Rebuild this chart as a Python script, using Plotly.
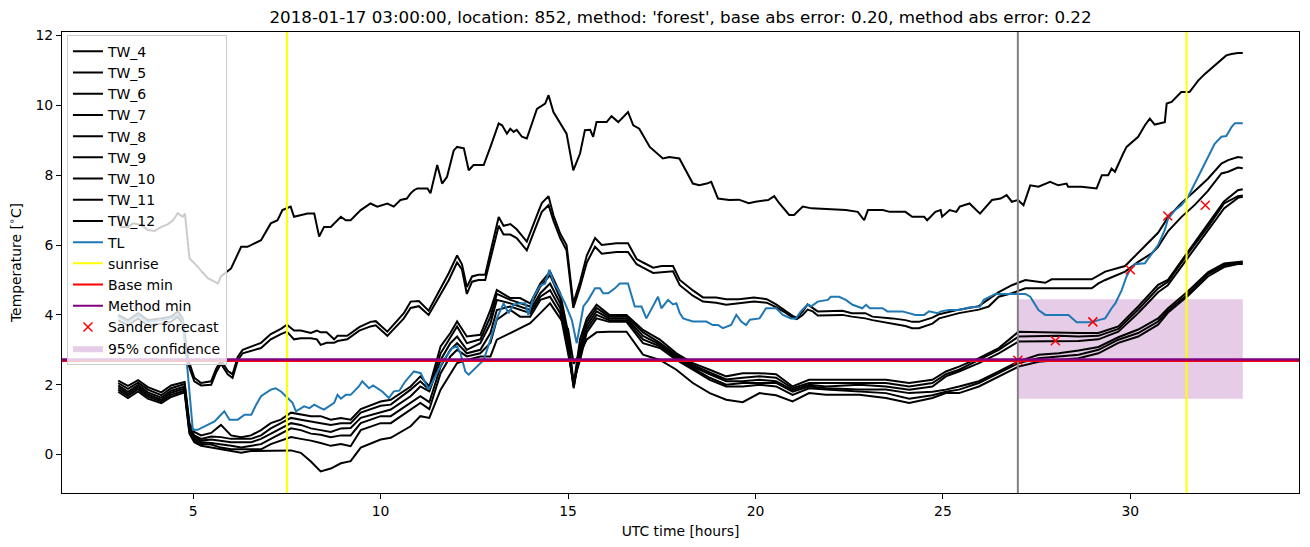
import plotly.graph_objects as go

# ---------------- data ----------------
title_text = "2018-01-17 03:00:00, location: 852, method: 'forest', base abs error: 0.20, method abs error: 0.22"

# warmest black line
top_t = [3.0, 3.08, 3.26, 3.4, 3.62, 3.79, 3.97, 4.15, 4.33, 4.46, 4.59, 4.72, 4.78, 4.9, 5.03, 5.39, 5.66, 5.74, 6.01,
         6.28, 6.45, 6.81, 7.07, 7.25, 7.38, 7.6, 7.69, 8.05, 8.23, 8.36, 8.49, 8.67, 8.94, 9.07, 9.2, 9.47, 9.73, 9.91,
         10.18, 10.35, 10.53, 10.7, 10.8, 10.89, 10.98, 11.25, 11.33, 11.51, 11.64, 11.77, 11.95, 12.04, 12.22, 12.35,
         12.48, 12.75, 12.93, 13.15, 13.24, 13.37, 13.46, 13.55, 13.63, 13.77, 13.9, 14.17, 14.39, 14.48, 14.61, 14.96,
         15.14, 15.32, 15.45, 15.59, 15.67, 15.76, 16.03, 16.16, 16.34, 16.6, 16.74, 16.9, 17.18, 17.53, 17.7, 17.97,
         18.33, 18.5, 18.7, 18.82, 19.0, 19.3, 19.56, 19.82, 20.0, 20.34, 20.5, 20.64, 20.9, 21.03, 21.26, 21.5, 22.41,
         22.73, 22.9, 23.0, 23.4, 23.58, 24.0, 24.18, 24.5, 24.58, 24.8, 24.94, 24.98, 25.18, 25.36, 25.45, 25.71, 25.99,
         26.31, 26.54, 26.7, 26.84, 27.0, 27.15, 27.33, 27.55, 27.86, 28.08, 28.3, 28.34, 28.7, 29.1, 29.24, 29.41, 29.5,
         29.59, 29.81, 29.9, 30.21, 30.39, 30.52, 30.65, 30.92, 30.97, 31.1, 31.36, 31.58, 31.81, 31.99, 32.34, 32.56,
         32.7, 32.87, 33.0]
top_v = [6.86, 6.52, 6.52, 6.62, 6.57, 6.43, 6.4, 6.52, 6.6, 6.71, 6.91, 6.81, 6.9, 5.62, 5.48, 5.05, 4.9, 5.1, 5.33,
         5.95, 5.95, 6.14, 6.62, 6.71, 7.0, 7.1, 6.81, 6.9, 6.9, 6.24, 6.52, 6.52, 6.81, 6.71, 6.71, 7.0, 7.19, 7.1,
         7.19, 7.1, 7.29, 7.33, 7.48, 7.57, 7.62, 7.62, 7.48, 8.29, 7.76, 7.95, 8.71, 8.81, 8.77, 8.14, 8.29, 8.29, 8.81,
         9.48, 9.43, 9.19, 9.33, 9.24, 9.3, 9.1, 9.05, 9.9, 10.05, 10.29, 9.81, 9.19, 8.14, 8.62, 9.29, 9.3, 9.1, 9.52,
         9.52, 9.69, 9.52, 9.81, 9.43, 9.33, 8.81, 8.48, 8.52, 8.48, 7.76, 7.71, 7.76, 7.81, 7.33, 7.29, 7.3, 7.2, 7.24,
         7.29, 7.4, 7.19, 6.86, 6.86, 7.1, 7.05, 7.0, 6.95, 6.71, 7.0, 7.0, 6.95, 6.95, 6.81, 6.81, 6.71, 6.95, 7.0, 6.81,
         7.0, 6.95, 7.1, 7.19, 6.9, 7.29, 7.33, 7.43, 7.24, 7.29, 7.14, 7.71, 7.67, 7.81, 7.71, 7.76, 7.67, 7.67, 7.62,
         8.0, 8.0, 8.19, 8.1, 8.62, 8.81, 9.1, 9.43, 9.62, 9.45, 9.52, 10.05, 10.1, 10.38, 10.38, 10.71, 10.9, 11.24,
         11.43, 11.47, 11.5, 11.5]

# pair of black lines in the middle
pair_t = [3.0, 3.26, 3.53, 3.79, 4.15, 4.41, 4.59, 4.72, 4.86, 5.03, 5.21, 5.48, 5.61, 5.74, 5.92, 6.05, 6.19, 6.32,
          6.81, 7.07, 7.34, 7.5, 7.69, 7.87, 8.14, 8.3, 8.4, 8.56, 8.76, 8.85, 9.11, 9.43, 9.73, 9.87, 10.18, 10.62,
          10.8, 11.02, 11.28, 11.42, 11.6, 11.82, 12.04, 12.17, 12.3, 12.44, 12.61, 12.79, 12.93, 13.15, 13.28, 13.46,
          13.63, 13.9, 14.17, 14.3, 14.48, 14.61, 14.79, 14.96, 15.14, 15.32, 15.5, 15.72, 15.9, 16.29, 16.6, 16.83,
          17.0, 17.27, 17.5, 17.8, 17.98, 18.33, 18.6, 18.95, 19.22, 19.56, 19.96, 20.3, 20.55, 20.82, 20.99, 21.1,
          21.26, 21.39, 21.53, 21.66, 22.32, 22.57, 22.93, 23.12, 23.65, 24.0, 24.18, 24.36, 24.72, 24.9, 25.43, 25.96,
          26.22, 26.49, 26.84, 27.2, 27.73, 27.9, 28.97, 29.15, 29.33, 29.86, 30.21, 30.57, 30.74, 31.01, 31.36, 31.72,
          32.07, 32.43, 32.61, 32.87, 33.0]
pair_a = [4.0, 3.85, 4.05, 3.85, 3.9, 3.95, 4.1, 3.9, 2.75, 2.2, 2.05, 2.1, 2.45, 2.7, 2.4, 2.3, 2.8, 3.0, 3.2, 3.45,
          3.6, 3.72, 3.55, 3.55, 3.48, 3.55, 3.5, 3.5, 3.3, 3.4, 3.4, 3.65, 3.8, 3.82, 3.52, 4.05, 4.38, 4.4, 4.12,
          4.4, 4.75, 5.2, 5.7, 5.45, 4.8, 5.1, 5.15, 5.15, 5.8, 6.8, 6.55, 6.6, 6.45, 6.1, 6.85, 7.2, 7.4, 6.85, 6.33,
          6.0, 4.33, 4.95, 5.7, 6.2, 6.0, 6.05, 6.05, 5.6, 5.5, 5.35, 5.4, 5.4, 5.0, 4.7, 4.5, 4.5, 4.45, 4.45, 4.5,
          4.45, 4.3, 4.1, 3.97, 3.92, 4.1, 4.3, 4.2, 4.1, 4.12, 4.05, 4.05, 3.95, 3.9, 3.85, 3.8, 3.8, 3.92, 4.02,
          4.15, 4.25, 4.45, 4.65, 4.85, 5.0, 4.92, 5.02, 5.02, 5.14, 5.24, 5.4, 5.78, 6.16, 6.35, 6.8, 7.2, 7.55, 7.9,
          8.33, 8.43, 8.52, 8.5]
pair_b = [3.85, 3.7, 3.9, 3.7, 3.75, 3.8, 3.95, 3.75, 2.6, 2.1, 1.98, 2.0, 2.35, 2.6, 2.3, 2.2, 2.7, 2.9, 3.05, 3.3,
          3.45, 3.52, 3.3, 3.33, 3.33, 3.3, 3.14, 3.2, 3.2, 3.25, 3.3, 3.55, 3.67, 3.7, 3.4, 3.9, 4.2, 4.25, 4.0,
          4.25, 4.6, 5.0, 5.5, 5.3, 4.6, 4.95, 5.0, 5.0, 5.6, 6.55, 6.3, 6.3, 6.2, 5.85, 6.6, 6.95, 7.14, 6.7, 6.2,
          5.85, 4.2, 4.8, 5.5, 5.95, 5.75, 5.8, 5.8, 5.45, 5.35, 5.2, 5.22, 5.25, 4.85, 4.55, 4.38, 4.35, 4.29, 4.33,
          4.38, 4.35, 4.22, 4.05, 3.92, 3.88, 4.0, 4.15, 4.1, 3.98, 4.0, 3.95, 3.9, 3.85, 3.76, 3.68, 3.62, 3.62, 3.75,
          3.9, 4.05, 4.15, 4.24, 4.52, 4.62, 4.76, 4.76, 4.76, 4.76, 4.9, 5.0, 5.24, 5.52, 5.76, 5.95, 6.4, 6.8, 7.15,
          7.55, 8.05, 8.1, 8.22, 8.2]

# cluster of six cooler black lines
low_t = [3.0, 3.26, 3.53, 3.79, 4.15, 4.41, 4.77, 4.9, 5.03, 5.21, 5.48, 5.74, 6.01, 6.28, 6.54, 6.81, 7.07, 7.34, 7.61,
         7.87, 8.14, 8.4, 8.67, 8.94, 9.2, 9.47, 10.0, 10.27, 10.8, 11.06, 11.3, 11.6, 11.86, 12.04, 12.3, 12.66, 12.93,
         13.1, 13.46, 13.72, 13.99, 14.26, 14.52, 14.79, 15.0, 15.15, 15.32, 15.5, 15.76, 16.1, 16.56, 17.0, 17.45,
         17.89, 18.33, 18.78, 19.22, 19.66, 20.11, 20.55, 20.99, 21.43, 21.88, 22.77, 23.48, 24.1, 24.72, 25.08, 25.43,
         25.96, 26.49, 27.02, 27.55, 28.09, 28.62, 29.15, 29.68, 30.21, 30.74, 31.0, 31.54, 32.07, 32.5, 32.87, 33.0]
low_1 = [2.12, 1.97, 2.13, 1.93, 1.78, 1.98, 2.08, 0.9, 0.65, 0.55, 0.62, 0.85, 0.55, 0.5, 0.55, 0.7, 0.9, 1.0, 1.2, 1.15,
         1.1, 1.1, 1.0, 1.05, 1.0, 1.3, 1.52, 1.57, 1.95, 2.24, 1.95, 3.1, 3.48, 3.81, 3.38, 3.43, 4.14, 4.71, 4.48,
         4.48, 4.33, 4.9, 5.24, 4.62, 3.5, 2.0, 3.3, 3.9, 4.29, 4.0, 4.0, 3.57, 3.29, 2.9, 2.62, 2.43, 2.24, 2.33, 2.33,
         2.3, 1.95, 2.14, 2.14, 2.14, 2.14, 2.05, 2.14, 2.38, 2.52, 2.76, 3.05, 3.52, 3.5, 3.5, 3.48, 3.48, 3.67, 4.24,
         4.86, 5.0, 5.8, 6.6, 7.25, 7.57, 7.6]
low_2 = [2.05, 1.88, 2.06, 1.86, 1.7, 1.9, 2.02, 0.8, 0.55, 0.45, 0.52, 0.5, 0.45, 0.45, 0.45, 0.55, 0.75, 0.9, 1.05, 1.0,
         0.95, 0.9, 0.85, 0.9, 0.9, 1.2, 1.4, 1.43, 1.86, 2.1, 1.85, 2.9, 3.38, 3.67, 3.19, 3.3, 3.95, 4.6, 4.43, 4.33,
         4.24, 4.81, 5.14, 4.48, 3.3, 1.95, 3.1, 3.8, 4.2, 3.95, 3.95, 3.5, 3.2, 2.85, 2.57, 2.35, 2.15, 2.2, 2.24, 2.2,
         1.9, 2.05, 2.05, 2.05, 2.05, 1.95, 2.05, 2.3, 2.43, 2.71, 3.0, 3.38, 3.4, 3.4, 3.38, 3.4, 3.6, 4.15, 4.76,
         4.95, 5.76, 6.52, 7.19, 7.4, 7.42]
low_3 = [1.98, 1.8, 1.99, 1.78, 1.63, 1.83, 1.95, 0.75, 0.5, 0.4, 0.43, 0.4, 0.35, 0.35, 0.35, 0.45, 0.6, 0.75, 0.9, 0.85,
         0.75, 0.7, 0.65, 0.75, 0.76, 1.05, 1.2, 1.29, 1.67, 1.95, 1.81, 2.71, 3.19, 3.38, 3.0, 3.19, 3.76, 4.43, 4.33,
         4.24, 4.14, 4.62, 4.9, 4.33, 3.1, 1.9, 3.0, 3.7, 4.1, 3.9, 3.9, 3.4, 3.15, 2.8, 2.52, 2.3, 2.1, 2.1, 2.14, 2.1,
         1.85, 2.0, 1.95, 2.0, 1.95, 1.86, 1.95, 2.24, 2.38, 2.62, 2.9, 3.24, 3.25, 3.25, 3.25, 3.3, 3.52, 4.05, 4.65,
         4.85, 5.65, 6.4, 7.05, 7.35, 7.38]
low_4 = [1.92, 1.74, 1.93, 1.72, 1.57, 1.77, 1.89, 0.7, 0.45, 0.35, 0.33, 0.3, 0.25, 0.2, 0.25, 0.3, 0.45, 0.6, 0.75, 0.7,
         0.6, 0.57, 0.5, 0.55, 0.55, 0.9, 1.1, 1.1, 1.48, 1.67, 1.5, 2.52, 3.0, 3.19, 2.9, 3.0, 3.48, 4.14, 4.24, 4.14,
         4.05, 4.52, 4.71, 4.19, 3.0, 1.95, 2.9, 3.6, 4.0, 3.85, 3.85, 3.3, 3.1, 2.75, 2.48, 2.2, 2.0, 2.05, 2.05, 2.05,
         1.8, 1.95, 1.9, 1.86, 1.86, 1.76, 1.8, 1.86, 1.95, 2.1, 2.38, 2.67, 2.86, 2.9, 2.98, 3.08, 3.36, 3.58, 3.9,
         4.18, 4.68, 5.22, 5.47, 5.53, 5.53]
low_5 = [1.86, 1.68, 1.87, 1.66, 1.52, 1.71, 1.83, 0.65, 0.4, 0.3, 0.29, 0.2, 0.15, 0.15, 0.15, 0.15, 0.3, 0.4, 0.5, 0.45,
         0.4, 0.33, 0.25, 0.3, 0.24, 0.7, 0.9, 0.9, 1.29, 1.48, 1.3, 2.33, 2.81, 3.0, 2.81, 2.9, 3.2, 3.86, 4.14, 3.95,
         3.95, 4.43, 4.52, 4.05, 2.9, 2.1, 2.7, 3.5, 3.9, 3.8, 3.8, 3.19, 3.05, 2.71, 2.43, 2.14, 1.95, 1.95, 2.0, 1.95,
         1.71, 1.9, 1.86, 1.8, 1.76, 1.6, 1.7, 1.8, 1.86, 2.05, 2.33, 2.62, 2.76, 2.81, 2.86, 3.0, 3.29, 3.48, 3.81,
         4.12, 4.6, 5.17, 5.42, 5.5, 5.5]
low_6 = [1.8, 1.62, 1.81, 1.6, 1.47, 1.65, 1.78, 0.6, 0.35, 0.25, 0.2, 0.15, 0.1, 0.05, 0.1, 0.1, 0.1, 0.1, 0.12, 0.05,
         -0.2, -0.48, -0.4, -0.25, -0.19, 0.2, 0.43, 0.48, 0.81, 1.1, 1.05, 1.86, 2.33, 2.62, 2.71, 2.81, 2.81, 3.29,
         3.48, 3.62, 3.76, 4.05, 4.33, 3.9, 3.6, 2.6, 2.9, 3.3, 3.5, 3.52, 3.52, 2.86, 2.71, 2.43, 2.05, 1.76, 1.57,
         1.5, 1.76, 1.7, 1.52, 1.76, 1.71, 1.71, 1.62, 1.48, 1.62, 1.76, 1.76, 1.95, 2.24, 2.52, 2.66, 2.71, 2.76, 2.9,
         3.2, 3.38, 3.72, 4.06, 4.55, 5.1, 5.37, 5.46, 5.46]

# TL (air temperature)
tl_t = [3.0, 3.26, 3.53, 3.79, 4.15, 4.41, 4.59, 4.72, 4.85, 4.99, 5.12, 5.3, 5.57, 5.74, 5.83, 5.97, 6.19, 6.37, 6.55,
        6.68, 6.81, 7.07, 7.2, 7.35, 7.52, 7.65, 7.74, 7.87, 7.96, 8.1, 8.23, 8.4, 8.49, 8.76, 8.85, 8.94, 9.07, 9.2,
        9.29, 9.42, 9.51, 9.69, 9.8, 9.95, 10.05, 10.22, 10.35, 10.5, 10.66, 10.89, 11.07, 11.28, 11.51, 11.68, 11.91,
        12.04, 12.13, 12.26, 12.35, 12.57, 12.75, 12.93, 13.1, 13.28, 13.41, 13.55, 13.72, 13.86, 13.94, 14.08, 14.26,
        14.39, 14.5, 14.63, 14.74, 14.92, 15.1, 15.23, 15.41, 15.54, 15.72, 15.85, 15.94, 16.07, 16.25, 16.38, 16.6,
        16.78, 16.96, 17.09, 17.27, 17.4, 17.49, 17.67, 17.8, 17.89, 17.98, 18.07, 18.33, 18.69, 18.86, 19.0, 19.13,
        19.35, 19.49, 19.62, 19.75, 19.85, 20.11, 20.28, 20.55, 20.73, 20.95, 21.08, 21.21, 21.39, 21.5, 21.66, 21.93,
        22.01, 22.23, 22.41, 22.59, 22.85, 22.95, 23.05, 23.39, 23.52, 23.92, 24.27, 24.5, 24.63, 24.86, 24.95, 25.16,
        25.43, 25.7, 25.99, 26.09, 26.4, 26.97, 27.2, 27.33, 27.55, 27.73, 28.35, 28.57, 28.97, 29.15, 29.33, 29.5,
        29.6, 29.77, 29.9, 29.99, 30.12, 30.39, 30.52, 30.74, 30.92, 31.01, 31.19, 31.36, 31.54, 31.81, 32.07, 32.25,
        32.43, 32.56, 32.7, 32.79, 33.0]
tl_v = [3.95, 3.8, 4.0, 3.8, 3.85, 3.9, 4.0, 3.85, 2.4, 0.71, 0.71, 0.81, 0.95, 1.14, 1.24, 1.0, 1.0, 1.14, 1.14, 1.43,
        1.67, 1.86, 1.9, 1.8, 1.62, 1.48, 1.24, 1.32, 1.38, 1.33, 1.43, 1.33, 1.29, 1.48, 1.71, 1.6, 1.71, 1.71, 1.81,
        1.95, 2.1, 1.9, 1.98, 1.86, 1.8, 1.62, 1.81, 1.83, 2.1, 2.38, 2.33, 1.86, 2.33, 2.71, 3.05, 3.1, 2.9, 2.38,
        2.29, 2.52, 2.71, 3.29, 3.9, 4.33, 4.05, 4.29, 4.33, 4.33, 4.0, 4.52, 4.84, 4.9, 5.29, 4.9, 4.71, 4.33, 3.86,
        3.19, 4.24, 4.43, 4.76, 4.76, 4.62, 4.62, 4.76, 4.9, 4.9, 4.24, 4.24, 3.9, 4.24, 4.52, 4.19, 4.43, 4.3, 4.33,
        4.05, 3.9, 3.81, 3.81, 3.71, 3.71, 3.62, 3.71, 4.0, 3.81, 3.71, 3.86, 3.9, 4.19, 4.19, 4.0, 3.9, 3.9, 4.1,
        4.29, 4.25, 4.38, 4.43, 4.52, 4.52, 4.43, 4.29, 4.19, 4.29, 4.19, 4.19, 4.1, 4.1, 4.0, 4.0, 4.1, 4.05, 4.1,
        4.14, 4.14, 4.21, 4.24, 4.43, 4.6, 4.6, 4.6, 4.52, 4.14, 4.0, 4.0, 3.79, 3.79, 3.85, 3.9, 4.19, 4.33, 4.71,
        5.1, 5.29, 5.45, 5.48, 5.67, 6.0, 6.43, 6.76, 7.0, 7.14, 7.38, 7.95, 8.52, 8.9, 9.1, 9.12, 9.38, 9.49, 9.49]

series_names = ["TW_4", "TW_5", "TW_6", "TW_7", "TW_8", "TW_9", "TW_10", "TW_11", "TW_12"]
series_t = [top_t, pair_t, pair_t, low_t, low_t, low_t, low_t, low_t, low_t]
series_v = [top_v, pair_a, pair_b, low_1, low_2, low_3, low_4, low_5, low_6]

sunrise_hours = [7.5, 31.5]
forecast_hour = 27.0
base_min = 2.68
method_min = 2.72
sander_t = [27, 28, 29, 30, 31, 32]
sander_v = [2.7, 3.26, 3.8, 5.29, 6.83, 7.14]
conf_start, conf_end = 27.0, 33.0
conf_low, conf_high = 1.6, 4.45

# ---------------- figure ----------------
FONT = "DejaVu Sans"
fig = go.Figure()

# confidence band (drawn first so lines sit on top, listed last in legend)
fig.add_trace(go.Scatter(
    x=[conf_start, conf_end, conf_end, conf_start, conf_start],
    y=[conf_low, conf_low, conf_high, conf_high, conf_low],
    mode="lines", fill="toself", fillcolor="rgba(128,0,128,0.2)",
    line=dict(width=0, color="rgba(128,0,128,0)"),
    name="95% confidence", legendrank=1100, hoverinfo="skip"))

for i, (nm, tt, vv) in enumerate(zip(series_names, series_t, series_v)):
    fig.add_trace(go.Scatter(x=tt, y=vv, mode="lines", name=nm,
                             line=dict(color="black", width=2), legendrank=100 + i))

fig.add_trace(go.Scatter(x=tl_t, y=tl_v, mode="lines", name="TL",
                         line=dict(color="#1f77b4", width=2), legendrank=200))

# legend-only entries for reference lines (drawn as shapes)
fig.add_trace(go.Scatter(x=[None], y=[None], mode="lines", name="sunrise",
                         line=dict(color="yellow", width=2), legendrank=300))
fig.add_trace(go.Scatter(x=[None], y=[None], mode="lines", name="Base min",
                         line=dict(color="red", width=2), legendrank=400))
fig.add_trace(go.Scatter(x=[None], y=[None], mode="lines", name="Method min",
                         line=dict(color="purple", width=2), legendrank=500))

fig.add_trace(go.Scatter(x=sander_t, y=sander_v, mode="markers", name="Sander forecast",
                         marker=dict(symbol="x-thin", size=9, color="red",
                                     line=dict(color="red", width=1.5)),
                         legendrank=600))

shapes = []
for h in sunrise_hours:
    shapes.append(dict(type="line", xref="x", yref="y domain", x0=h, x1=h, y0=0, y1=1,
                       line=dict(color="yellow", width=2), layer="above"))
shapes.append(dict(type="line", xref="x", yref="y domain", x0=forecast_hour, x1=forecast_hour,
                   y0=0, y1=1, line=dict(color="gray", width=2), layer="above"))
shapes.append(dict(type="line", xref="x domain", yref="y", x0=0, x1=1, y0=base_min, y1=base_min,
                   line=dict(color="red", width=2), layer="above"))
shapes.append(dict(type="line", xref="x domain", yref="y", x0=0, x1=1, y0=method_min, y1=method_min,
                   line=dict(color="purple", width=2.5), layer="above"))

fig.update_layout(
    width=1310, height=547,
    margin=dict(l=62, r=11, t=32, b=54),
    paper_bgcolor="white", plot_bgcolor="white",
    font=dict(family=FONT, size=14, color="black"),
    title=dict(text=title_text, x=0.5, xref="paper", xanchor="center",
               y=1 - 17 / 547, yref="container", yanchor="middle",
               font=dict(family=FONT, size=16.7, color="black")),
    shapes=shapes,
    showlegend=True,
    legend=dict(x=0.004, y=0.994, xanchor="left", yanchor="top",
                bgcolor="rgba(255,255,255,0.8)", bordercolor="#cccccc", borderwidth=1,
                font=dict(family=FONT, size=14, color="black"),
                tracegroupgap=0, itemwidth=30),
)
fig.update_xaxes(range=[1.5, 34.5], tickvals=[5, 10, 15, 20, 25, 30],
                 showgrid=False, zeroline=False, showline=True, linecolor="black", linewidth=1,
                 mirror=True, ticks="outside", ticklen=5, tickcolor="black",
                 tickfont=dict(family=FONT, size=13.9),
                 title=dict(text="UTC time [hours]", font=dict(family=FONT, size=13.9), standoff=8))
fig.update_yaxes(range=[-1.1, 12.1], tickvals=[0, 2, 4, 6, 8, 10, 12],
                 showgrid=False, zeroline=False, showline=True, linecolor="black", linewidth=1,
                 mirror=True, ticks="outside", ticklen=5, tickcolor="black",
                 tickfont=dict(family=FONT, size=13.9),
                 title=dict(text="Temperature [<sup>∘</sup>C]", font=dict(family=FONT, size=13.9), standoff=10))

fig.write_html("out.html")
